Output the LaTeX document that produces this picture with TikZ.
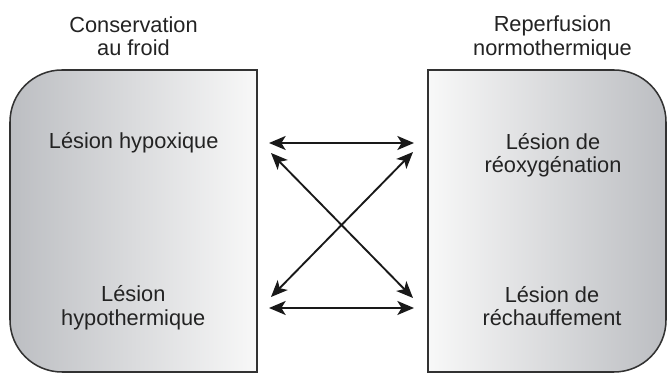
\documentclass[tikz,border=0pt]{standalone}
\usepackage{fontspec}
\setmainfont{Liberation Sans}
\usepackage{tikz}
\usetikzlibrary{arrows.meta}
\tikzset{>=stealth}
\usepackage{xcolor}
\definecolor{boxdark}{RGB}{188,190,194}
\definecolor{boxlight}{RGB}{248,248,248}
\definecolor{edgegray}{RGB}{50,50,50}
\definecolor{txtgray}{RGB}{35,35,35}
\tikzset{
  lbl/.style={align=center, text=txtgray, font=\fontsize{18.6}{20}\selectfont},
  boxline/.style={draw=edgegray, line width=1.3pt},
  link/.style={{Stealth[length=5mm,width=4.2mm,inset=1.3mm]}-{Stealth[length=5mm,width=4.2mm,inset=1.3mm]}, line width=1.6pt, black!90}
}

\begin{document}
\begin{tikzpicture}[x=0.03cm,y=0.03cm]
	\useasboundingbox (0,0) rectangle (668,374);
	\draw [boxline, left color=boxdark, right color=boxlight] (257,304) -- (62,304) arc[start angle=90,end angle=180,radius=52] -- (10,54) arc[start angle=180,end angle=270,radius=52] -- (257,2) -- cycle;
	\draw [boxline, left color=boxlight, right color=boxdark] (428,304) -- (614,304) arc[start angle=90,end angle=0,radius=52] -- (666,54) arc[start angle=0,end angle=-90,radius=52] -- (428,2) -- cycle;
	\node [lbl] (froid) at (133.5,338) {Conservation\\au froid};
	\node [lbl] (normo) at (552.5,336.2) {Reperfusion\\normothermique};
	\node [lbl] (hypox) at (133.7,231.7) {Lésion hypoxique};
	\node [lbl] (reoxy) at (553,219) {Lésion de\\réoxygénation};
	\node [lbl] (hypoth) at (133.3,66.3) {Lésion\\hypothermique};
	\node [lbl] (rechau) at (552,68) {Lésion de\\réchauffement};
	\coordinate (tl) at (269,231);
	\coordinate (tr) at (414,231);
	\coordinate (dtl) at (271,221);
	\coordinate (dtr) at (413,222);
	\coordinate (dbl) at (271,77);
	\coordinate (dbr) at (413,76);
	\coordinate (bl) at (269,66);
	\coordinate (br) at (414,66);
	\draw [link] (tl) -- (tr);
	\draw [link] (dtl) -- (dbr);
	\draw [link] (dbl) -- (dtr);
	\draw [link] (bl) -- (br);
\end{tikzpicture}
\end{document}
